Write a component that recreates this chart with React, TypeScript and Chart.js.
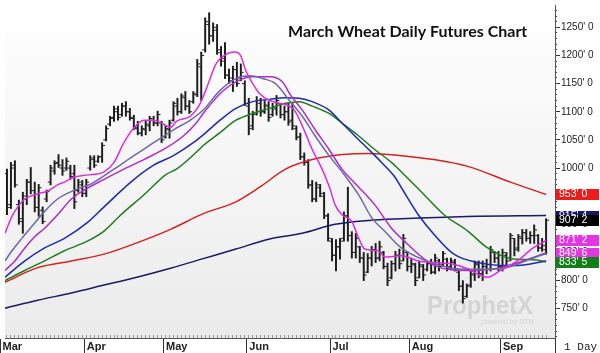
import React, { useEffect, useRef } from 'react';
import { Chart, registerables } from 'chart.js';
Chart.register(...registerables);

// ---- OHLC bars (one per trading day, Mar .. mid Sep) ----
const barHigh = [
  998, 1010, 1013, 943, 957, 980, 1001, 975, 971, 931, 961, 1005, 1013, 1024, 1015, 1018, 1005, 1005, 980, 978,
  980, 1022, 1022, 1022, 1045, 1075, 1092, 1110, 1110, 1115, 1118, 1106, 1094, 1083, 1075, 1083, 1092, 1092, 1101, 1083,
  1076, 1085, 1118, 1124, 1132, 1136, 1120, 1136, 1193, 1206, 1267, 1276, 1258, 1255, 1216, 1223, 1176, 1181, 1188, 1185, 1155,
  1124, 1101, 1127, 1124, 1120, 1118, 1115, 1129, 1115, 1110, 1115, 1115, 1075, 1062, 1027, 1015, 978, 975, 971, 957, 919,
  875, 873, 875, 922, 966, 887, 884, 861, 850, 848, 861, 866, 870, 852, 831, 835, 852, 856, 882, 852,
  840, 831, 835, 829, 835, 838, 847, 838, 852, 840, 840, 838, 817, 800, 794, 817, 835, 835, 835, 838, 861, 852, 852,
  856, 850, 884, 875, 882, 891, 891, 887, 899, 882, 875, 910,
];
const barLow = [
  917, 928, 966, 900, 884, 935, 954, 922, 914, 901, 940, 970, 989, 1001, 987, 996, 980, 928, 957, 949,
  949, 996, 1001, 1010, 1010, 1048, 1075, 1083, 1085, 1092, 1092, 1085, 1068, 1059, 1057, 1059, 1066, 1075, 1075, 1045,
  1053, 1053, 1083, 1094, 1097, 1103, 1097, 1115, 1127, 1120, 1206, 1220, 1225, 1202, 1181, 1159, 1150, 1136, 1145, 1155, 1111,
  1059, 1068, 1094, 1092, 1097, 1083, 1092, 1094, 1089, 1085, 1076, 1068, 1050, 1015, 1005, 964, 940, 940, 949, 910, 870,
  835, 817, 838, 870, 870, 840, 840, 832, 800, 814, 826, 832, 835, 821, 791, 803, 817, 821, 835, 817,
  814, 791, 805, 800, 817, 812, 812, 817, 826, 817, 821, 817, 782, 760, 770, 788, 800, 805, 800, 812, 817, 832, 817,
  817, 826, 835, 844, 852, 865, 870, 866, 866, 852, 852, 847,
];
const barOpen = [
  990, 935, 1005, 935, 905, 945, 975, 960, 930, 925, 945, 975, 995, 1010, 1000, 1000, 1000, 990, 960, 970,
  955, 1000, 1015, 1012, 1020, 1050, 1078, 1090, 1100, 1095, 1110, 1100, 1088, 1070, 1062, 1068, 1075, 1085, 1080, 1080,
  1055, 1068, 1085, 1110, 1100, 1125, 1110, 1118, 1130, 1180, 1210, 1255, 1235, 1245, 1205, 1195, 1165, 1155, 1175, 1160, 1150,
  1110, 1075, 1098, 1115, 1100, 1110, 1095, 1105, 1115, 1095, 1100, 1085, 1070, 1055, 1020, 1010, 970, 945, 965, 950, 915,
  870, 845, 860, 875, 915, 880, 850, 860, 840, 815, 840, 855, 840, 850, 825, 805, 830, 845, 835, 850,
  825, 828, 805, 825, 820, 830, 815, 835, 828, 838, 825, 832, 815, 790, 772, 792, 810, 828, 812, 825, 820, 850, 840,
  825, 845, 840, 875, 858, 875, 885, 875, 880, 880, 858, 855,
];
const barClose = [
  930, 1000, 970, 910, 950, 975, 960, 930, 965, 905, 958, 1000, 1008, 1005, 995, 1012, 985, 940, 975, 955,
  975, 1018, 1005, 1020, 1040, 1070, 1088, 1105, 1090, 1110, 1100, 1090, 1072, 1062, 1070, 1078, 1088, 1080, 1095, 1050,
  1070, 1080, 1115, 1100, 1128, 1110, 1100, 1132, 1185, 1200, 1260, 1235, 1250, 1210, 1190, 1165, 1160, 1175, 1150, 1170, 1115,
  1070, 1095, 1120, 1100, 1112, 1090, 1108, 1120, 1095, 1100, 1082, 1075, 1055, 1020, 1010, 970, 945, 970, 955, 915, 875,
  845, 860, 870, 915, 880, 850, 875, 840, 810, 840, 855, 840, 860, 825, 800, 830, 845, 830, 875, 825,
  830, 800, 828, 810, 830, 815, 840, 825, 848, 822, 835, 820, 790, 768, 790, 812, 830, 812, 825, 820, 855, 840, 825,
  850, 835, 880, 855, 878, 885, 875, 880, 890, 858, 862, 907.25,
];

// ---- Axis categories ----
const monthTicks = [-1.75, 19.5, 39.5, 60.5, 81.5, 101.5, 124.5, 138.25];
const monthLabels = ['Mar', 'Apr', 'May', 'Jun', 'Jul', 'Aug', 'Sep', ' 1 Day'];
const priceTicks = [750, 800, 850, 900, 950, 1000, 1050, 1100, 1150, 1200, 1250];

// ---- Moving averages, [bar index, price] ----
const maFast = [[-0.5, 884], [1.25, 914], [2.75, 931], [4.5, 945], [7.75, 954], [10.25, 959], [12.75, 970], [14.5, 975], [17, 984], [19.5, 987], [22, 989], [24.5, 993], [27, 1010], [29.5, 1045], [32, 1071], [34.5, 1085], [37, 1085], [39.5, 1078], [41.25, 1072], [42.75, 1083], [46.25, 1092], [48.75, 1115], [50.5, 1145], [52.75, 1185], [55.25, 1202], [57.5, 1206], [59, 1199], [60.25, 1173], [62, 1150], [63.75, 1132], [66.25, 1120], [68.75, 1115], [71.25, 1110], [72.5, 1103], [74.5, 1075], [77, 1033], [79.5, 998], [81.5, 963], [82.75, 935], [84.5, 917], [87, 905], [88.75, 875], [90.25, 856], [93.75, 853], [95.25, 842], [99.5, 844], [103.75, 835], [107.75, 832], [112, 830], [116.25, 821], [119.5, 809], [121.25, 806], [124.5, 818], [128.75, 835], [132.75, 858], [136, 871.25]];
const maSlate = [[-0.5, 835], [1.25, 853], [3.75, 875], [6.25, 896], [9.5, 923], [12.75, 945], [17.75, 963], [21.25, 972], [27, 998], [32, 1022], [37, 1045], [42, 1068], [46.25, 1085], [49.5, 1103], [53.75, 1138], [57.75, 1159], [61.25, 1164], [64.5, 1159], [67.75, 1150], [71.25, 1120], [74.5, 1092], [77.75, 1057], [81.25, 1022], [85, 989], [88.75, 952], [92, 912], [95.25, 888], [99.5, 858], [107.75, 830], [116.25, 820], [124.5, 821], [132.75, 840], [136, 848]];
const maMid = [[-0.5, 818], [2, 835], [4.5, 858], [7, 878], [9.5, 893], [12.75, 917], [16.25, 945], [19.5, 961], [24.5, 980], [29.5, 998], [34.5, 1015], [39.5, 1033], [44.5, 1057], [47.75, 1080], [49.5, 1097], [53.75, 1132], [57.75, 1153], [62, 1162], [66.25, 1162], [69.5, 1153], [71.5, 1130], [74.5, 1103], [77.75, 1068], [81.25, 1033], [84.5, 998], [87.5, 975], [92.75, 935], [97, 893], [99.5, 875], [107.75, 827], [116.25, 818], [124.5, 823], [132.75, 841], [136, 849.75]];
const maBlue = [[-0.5, 806], [4.5, 835], [9.5, 858], [14.5, 875], [20.25, 903], [24.5, 931], [31.25, 975], [37, 1005], [42, 1022], [47, 1045], [49.5, 1059], [53.75, 1085], [57.75, 1106], [62, 1118], [66.25, 1122], [70.25, 1125], [73.75, 1124], [77, 1118], [81.25, 1103], [84.5, 1080], [87.75, 1057], [91.25, 1033], [94.5, 1010], [97.75, 985], [99.5, 965], [103.75, 917], [107.75, 882], [112.75, 847], [118.75, 832], [124.5, 827], [128.75, 827], [136, 835]];
const maGreen = [[-0.5, 800], [4.5, 818], [9.5, 835], [14.5, 853], [20.25, 870], [24.5, 888], [28.75, 917], [34.5, 952], [40.25, 989], [42.75, 998], [47.75, 1028], [49.5, 1040], [53.75, 1063], [57.75, 1085], [62, 1097], [66.25, 1106], [70.25, 1115], [73.75, 1118], [77, 1110], [81.25, 1097], [84.5, 1080], [88.75, 1057], [92.75, 1033], [97, 1010], [99.5, 993], [104.5, 958], [110.25, 917], [116.25, 888], [121.25, 858], [127, 839], [132.75, 837], [136, 833.625]];
const maRed = [[-0.5, 797], [7.75, 823], [16.25, 835], [24.5, 847], [32.75, 867], [41.25, 891], [49.5, 919], [57.75, 940], [63.75, 966], [70.25, 998], [77, 1015], [84.5, 1024], [91.25, 1026], [99.5, 1022], [107.75, 1015], [116.25, 1003], [127, 975], [136, 953]];
const maNavy = [[-0.5, 751], [7.75, 765], [16.25, 778], [24.5, 792], [32.75, 806], [41.25, 822], [49.5, 839], [57.75, 856], [66.25, 874], [74.5, 884], [82.75, 900], [91.25, 907], [99.5, 910], [116.25, 914], [136, 915.5]];

// ---- last-value flags on the price axis ----
const lastValues = [953, 915.5, 907.25, 871.25, 849.75, 833.625];
const lastLabels = ["953' 0", "915' 4", "907' 2", "871' 2", "849' 6", "833' 5"];
const lastColors = ['#ea1c1c', '#18186a', '#000000', '#e435e4', '#e435e4', '#138017'];

const titleText = 'March Wheat Daily Futures Chart';

const idx = barHigh.map((_, i) => i);

const lineDs = (pts: number[][], color: string, order: number) => ({
  type: 'line' as const,
  data: pts.map(([x, y]) => ({ x, y })),
  borderColor: color,
  borderWidth: 1.5,
  pointRadius: 0,
  fill: false,
  cubicInterpolationMode: 'monotone' as const,
  order,
});

const tickDs = (vals: number[], shift: number) => ({
  type: 'line' as const,
  data: idx.map((i) => ({ x: i + shift, y: vals[i] })),
  showLine: false,
  pointStyle: 'line' as const,
  pointRadius: 1.3,
  pointBorderWidth: 1,
  pointBorderColor: '#222',
  pointBackgroundColor: '#222',
  order: 19,
});

const decorPlugin = {
  id: 'decor',
  beforeDraw(chart: any) {
    const { ctx, chartArea: a, width, height } = chart;
    ctx.save();
    ctx.fillStyle = '#ffffff';
    ctx.fillRect(0, 0, width, height);
    const g = ctx.createLinearGradient(0, a.top, 0, a.bottom);
    g.addColorStop(0, '#ffffff');
    g.addColorStop(1, '#ebebeb');
    ctx.fillStyle = g;
    ctx.fillRect(a.left, a.top, a.right - a.left, a.bottom - a.top);
    ctx.restore();
  },
  beforeDatasetsDraw(chart: any) {
    const { ctx } = chart;
    ctx.save();
    ctx.fillStyle = 'rgba(175,175,175,0.4)';
    ctx.font = 'bold 26px "Liberation Sans"';
    ctx.textBaseline = 'alphabetic';
    ctx.fillText('ProphetX', 427, 314, 106);
    ctx.font = '7px "Liberation Sans"';
    ctx.fillText('powered by DTN', 481, 324);
    ctx.restore();
  },
  afterDraw(chart: any) {
    const { ctx } = chart;
    const ys = chart.scales.y;
    ctx.save();
    ctx.font = 'bold 16px Lato';
    ctx.fillStyle = '#111';
    ctx.textBaseline = 'alphabetic';
    ctx.fillText(titleText, 288, 37, 240);
    ctx.font = '10.5px "Liberation Sans"';
    ctx.textBaseline = 'middle';
    lastValues.forEach((v, k) => {
      const py = ys.getPixelForValue(v);
      ctx.fillStyle = lastColors[k];
      ctx.fillRect(ys.left + 1, Math.round(py) - 5, 43, 11);
      ctx.fillStyle = '#ffffff';
      ctx.fillText(lastLabels[k], ys.left + 4, Math.round(py) + 0.5);
    });
    ctx.restore();
  },
};

export default function App() {
  const ref = useRef<HTMLCanvasElement>(null);
  useEffect(() => {
    document.body.style.margin = '0';
    const chart = new Chart(ref.current as HTMLCanvasElement, {
      type: 'bar',
      data: {
        datasets: [
          lineDs(maFast, '#dc2edc', 1),
          lineDs(maSlate, '#6a6aa6', 2),
          lineDs(maMid, '#b42ac6', 3),
          lineDs(maBlue, '#1c2ab2', 4),
          lineDs(maGreen, '#1f7d1f', 5),
          lineDs(maRed, '#d42222', 6),
          lineDs(maNavy, '#1a1a66', 7),
          tickDs(barOpen, -0.4),
          tickDs(barClose, 0.4),
          {
            type: 'bar' as const,
            data: idx.map((i) => ({ x: i, y: [barLow[i], barHigh[i]] })),
            backgroundColor: '#1c1c1c',
            barThickness: 1.3,
            order: 20,
          } as any,
        ] as any,
      },
      options: {
        responsive: false,
        animation: false,
        events: [],
        layout: { padding: 0 },
        plugins: { legend: { display: false }, tooltip: { enabled: false }, title: { display: false } },
        scales: {
          x: {
            type: 'linear',
            position: 'bottom',
            min: -0.5,
            max: 138.25,
            offset: false,
            weight: 1,
            afterBuildTicks: (s: any) => { s.ticks = monthTicks.map((v) => ({ value: v })); },
            afterFit: (s: any) => { s.height = 15; s.paddingLeft = 0; s.paddingRight = 0; },
            ticks: {
              autoSkip: false,
              maxRotation: 0,
              minRotation: 0,
              align: 'start',
              labelOffset: 2.5,
              padding: -13,
              color: '#222',
              callback: (_v: any, i: number) => monthLabels[i],
              font: (c: any) => (c.index === monthLabels.length - 1
                ? { family: '"Liberation Mono"', size: 11, weight: 'normal' }
                : { family: '"Liberation Sans"', size: 11, weight: 'bold' }),
            },
            grid: { display: true, drawOnChartArea: false, drawTicks: true, tickLength: 15, tickColor: '#333', tickWidth: 1, offset: false },
            border: { display: true, color: '#555', width: 1 },
          },
          x2: {
            type: 'linear',
            position: 'bottom',
            min: -0.5,
            max: 138.25,
            offset: false,
            weight: 0,
            afterBuildTicks: (s: any) => { s.ticks = idx.map((v) => ({ value: v })); },
            afterFit: (s: any) => { s.height = 0; s.paddingLeft = 0; s.paddingRight = 0; },
            ticks: { display: false, autoSkip: false },
            grid: { display: true, drawOnChartArea: false, drawTicks: true, tickLength: -3, tickColor: '#9a9a9a', tickWidth: 1, offset: false },
            border: { display: false },
          },
          y: {
            type: 'linear',
            position: 'right',
            min: 698,
            max: 1289.7,
            weight: 1,
            afterBuildTicks: (s: any) => { s.ticks = priceTicks.map((v) => ({ value: v })); },
            afterFit: (s: any) => { s.width = 45; s.paddingTop = 0; s.paddingBottom = 0; },
            ticks: {
              autoSkip: false,
              padding: 1,
              color: '#222',
              font: { family: '"Liberation Sans"', size: 10 },
              callback: (v: any) => `${v}' 0`,
            },
            grid: { display: true, drawOnChartArea: false, drawTicks: true, tickLength: 5, tickColor: '#333' },
            border: { display: true, color: '#555', width: 1 },
          },
          y2: {
            type: 'linear',
            position: 'right',
            min: 698,
            max: 1289.7,
            weight: 0,
            afterBuildTicks: (s: any) => {
              const t: any[] = [];
              for (let v = 700; v <= 1280; v += 10) t.push({ value: v });
              s.ticks = t;
            },
            afterFit: (s: any) => { s.width = 0; s.paddingTop = 0; s.paddingBottom = 0; },
            ticks: { display: false, autoSkip: false },
            grid: { display: true, drawOnChartArea: false, drawTicks: true, tickLength: 2, tickColor: '#444' },
            border: { display: false },
          },
        },
      } as any,
      plugins: [decorPlugin],
    });
    return () => chart.destroy();
  }, []);
  return (
    <div style={{ width: 600, height: 353 }}>
      <canvas ref={ref} width={600} height={353} style={{ display: 'block' }} />
    </div>
  );
}
